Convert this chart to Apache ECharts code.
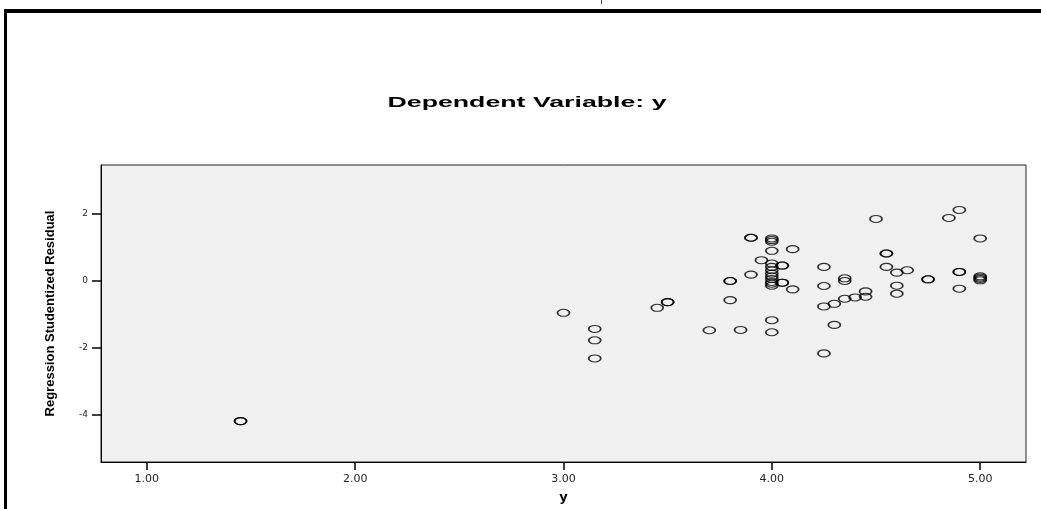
<!DOCTYPE html>
<html>
<head>
<meta charset="utf-8">
<script src="https://cdn.jsdelivr.net/npm/echarts@6/dist/echarts.min.js"></script>
<style>
  html, body { margin: 0; padding: 0; background: #fff; }
  #main { width: 1041px; height: 509px; }
</style>
</head>
<body>
<div id="main"></div>
<script>
var yObserved = [
    1.45, 1.45,
    3.00,
    3.15, 3.15, 3.15,
    3.45,
    3.50, 3.50,
    3.70,
    3.80, 3.80, 3.80,
    3.85,
    3.90, 3.90, 3.90,
    3.95,
    4.00, 4.00, 4.00, 4.00, 4.00, 4.00, 4.00, 4.00, 4.00, 4.00, 4.00, 4.00, 4.00, 4.00, 4.00,
    4.05, 4.05, 4.05, 4.05,
    4.10, 4.10,
    4.25, 4.25, 4.25, 4.25,
    4.30, 4.30,
    4.35, 4.35, 4.35,
    4.40,
    4.45, 4.45,
    4.50,
    4.55, 4.55, 4.55,
    4.60, 4.60, 4.60,
    4.65,
    4.75, 4.75,
    4.85,
    4.90, 4.90, 4.90, 4.90,
    5.00, 5.00, 5.00, 5.00, 5.00
];
var residual = [
    -4.2, -4.2,
    -0.97,
    -1.45, -1.79, -2.33,
    -0.82,
    -0.65, -0.65,
    -1.49,
    -0.02, -0.02, -0.59,
    -1.48,
    1.27, 1.27, 0.17,
    0.6,
    1.25, 1.2, 1.15, 0.88, 0.5, 0.4, 0.3, 0.2, 0.12, 0.04, -0.05, -0.1, -0.16, -1.19, -1.55,
    0.44, 0.44, -0.07, -0.07,
    0.93, -0.27,
    0.40, -0.17, -0.78, -2.18,
    -0.70, -1.33,
    0.06, -0.02, -0.55,
    -0.51,
    -0.33, -0.49,
    1.83,
    0.80, 0.80, 0.40,
    0.23, -0.16, -0.40,
    0.30,
    0.03, 0.03,
    1.86,
    2.10, 0.25, 0.25, -0.25,
    1.25, 0.12, 0.08, 0.04, 0.0
];
var xTicks = [1, 2, 3, 4, 5];
var yTicks = [-4, -2, 0, 2];

var points = [];
for (var i = 0; i < yObserved.length; i++) {
    points.push([yObserved[i], residual[i]]);
}

var myChart = echarts.init(document.getElementById('main'));

var option = {
    backgroundColor: '#fff',
    animation: false,
    graphic: [
        // frame pieces of the exported page
        { type: 'rect', shape: { x: 4, y: 9, width: 1037, height: 4 }, style: { fill: '#000' } },
        { type: 'rect', shape: { x: 4, y: 9, width: 3, height: 500 }, style: { fill: '#000' } },
        { type: 'rect', shape: { x: 601, y: 0, width: 1, height: 4 }, style: { fill: '#555' } },
        {
            type: 'text',
            x: 527, y: 103,
            scaleX: 1.78,
            style: {
                text: 'Dependent Variable: y',
                font: 'bold 15px Arial, "Liberation Sans", sans-serif',
                fill: '#000',
                align: 'center',
                verticalAlign: 'middle'
            }
        }
    ],
    grid: {
        left: 101,
        right: 15,
        top: 165,
        bottom: 41,
        show: true,
        backgroundColor: '#f0f0f0',
        borderColor: '#222',
        borderWidth: 1
    },
    xAxis: {
        type: 'value',
        min: 0.78,
        max: 5.22,
        name: 'y',
        nameLocation: 'middle',
        nameGap: 29,
        nameTextStyle: { fontFamily: '"DejaVu Sans", sans-serif', fontWeight: 'bold', fontSize: 13, color: '#000' },
        splitLine: { show: false },
        axisLine: { show: true, onZero: false, lineStyle: { color: '#000', width: 1 } },
        axisTick: { show: true, length: 8, customValues: xTicks, lineStyle: { color: '#000', width: 1.5 } },
        axisLabel: {
            customValues: xTicks,
            margin: 12,
            fontFamily: '"DejaVu Sans", sans-serif',
            fontSize: 11,
            color: '#222',
            formatter: function (v) { return v.toFixed(2); }
        }
    },
    yAxis: {
        type: 'value',
        min: -5.42,
        max: 3.44,
        name: 'Regression Studentized Residual',
        nameLocation: 'middle',
        nameGap: 44,
        nameTextStyle: { fontFamily: 'Arial, "Liberation Sans", sans-serif', fontWeight: 'bold', fontSize: 13, color: '#000' },
        splitLine: { show: false },
        axisLine: { show: true, onZero: false, lineStyle: { color: '#000', width: 1 } },
        axisTick: { show: true, length: 9, customValues: yTicks, lineStyle: { color: '#000', width: 1.5 } },
        axisLabel: {
            customValues: yTicks,
            margin: 13,
            fontFamily: '"DejaVu Sans", sans-serif',
            fontSize: 9,
            color: '#222'
        }
    },
    series: [
        {
            type: 'scatter',
            data: points,
            symbol: 'path://M0,5 A10,5 0 1,1 20,5 A10,5 0 1,1 0,5 Z',
            symbolKeepAspect: false,
            symbolSize: [12, 7],
            itemStyle: {
                color: 'rgba(0,0,0,0)',
                borderColor: '#000',
                borderWidth: 1.4
            }
        }
    ]
};
myChart.setOption(option);
</script>
</body>
</html>
